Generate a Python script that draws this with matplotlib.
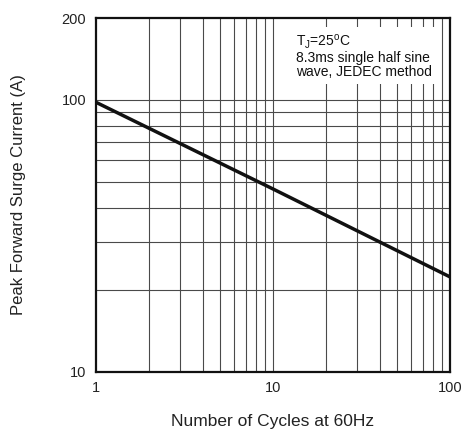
import matplotlib
matplotlib.use("Agg")
import matplotlib.pyplot as plt
from matplotlib.ticker import FixedLocator, NullFormatter

plt.rcParams['font.family'] = ['Liberation Sans', 'DejaVu Sans']

# surge current curve
cycles = [1, 10, 100]
current = [98, 47, 22.3]

x_major = [1, 10, 100]
x_minor = [2, 3, 4, 5, 6, 7, 8, 9, 20, 30, 40, 50, 60, 70, 80, 90]
y_major = [10, 100, 200]
y_grid = [20, 30, 40, 50, 60, 70, 80, 90, 100]

note = "T$_\\mathregular{J}$=25$^\\mathregular{o}$C\n8.3ms single half sine\nwave, JEDEC method"

fig = plt.figure(figsize=(4.66, 4.32), dpi=100)
ax = fig.add_axes([0.206, 0.14, 0.7597, 0.818])
ax.set_xscale('log')
ax.set_yscale('log')
ax.set_xlim(1, 100)
ax.set_ylim(10, 200)

ax.xaxis.set_major_locator(FixedLocator(x_major))
ax.xaxis.set_minor_locator(FixedLocator(x_minor))
ax.yaxis.set_major_locator(FixedLocator(y_major))
ax.yaxis.set_minor_locator(FixedLocator([v for v in y_grid if v not in y_major]))
ax.set_xticklabels([str(v) for v in x_major])
ax.set_yticklabels([str(v) for v in y_major])
ax.xaxis.set_minor_formatter(NullFormatter())
ax.yaxis.set_minor_formatter(NullFormatter())
ax.tick_params(which='both', length=0, labelsize=10.5, colors='#222222', pad=7)

for v in x_major[1:-1] + x_minor:
    ax.axvline(v, color='#4a4a4a', lw=0.8, zorder=1)
for v in y_grid:
    ax.axhline(v, color='#4a4a4a', lw=0.8, zorder=1)

ax.plot(cycles, current, color='#111111', lw=2.5, zorder=4, solid_capstyle='butt')

for s in ax.spines.values():
    s.set_linewidth(1.6)
    s.set_color('#111111')
    s.set_zorder(5)

ax.text(0.565, 0.958, note, transform=ax.transAxes, ha='left', va='top',
        fontsize=10, linespacing=1.0, color='#111111', zorder=3,
        bbox=dict(facecolor='white', edgecolor='none', pad=3))

ax.set_xlabel('Number of Cycles at 60Hz', fontsize=12.5, color='#222222', labelpad=13.5)
ax.set_ylabel('Peak Forward Surge Current (A)', fontsize=12, color='#222222', labelpad=26)

fig.savefig('out.png', dpi=100)
